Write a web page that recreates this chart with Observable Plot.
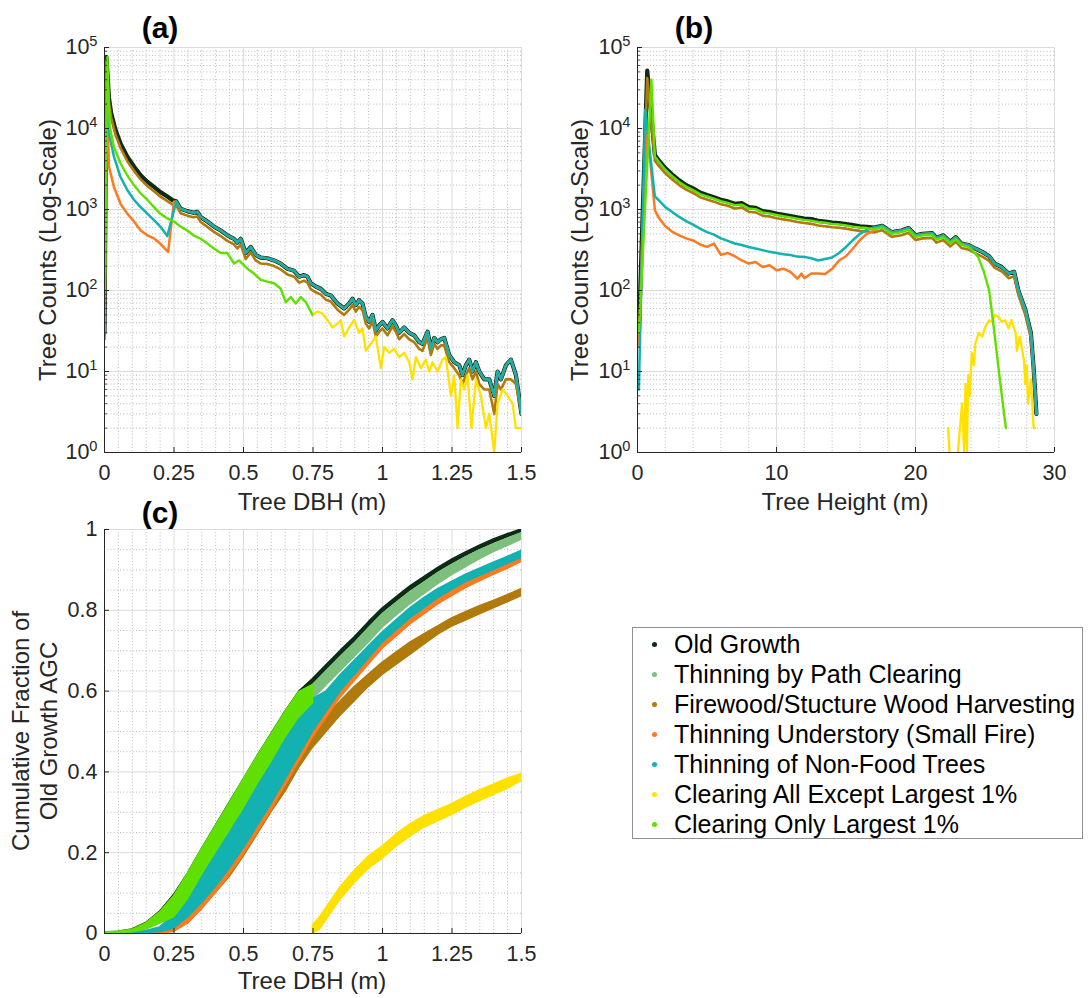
<!DOCTYPE html>
<html>
<head>
<meta charset="utf-8">
<script src="https://cdn.jsdelivr.net/npm/d3@7"></script>
<script src="https://cdn.jsdelivr.net/npm/@observablehq/plot@0.6"></script>
<style>
  body { margin: 0; background: #fff; }
  #root { position: relative; width: 1089px; height: 998px; overflow: hidden;
          font-family: "Liberation Sans", Arial, Helvetica, sans-serif; color: #262626; background: #fff; }
  .t { position: absolute; white-space: nowrap; transform: translate(-50%, -50%); font-size: 24px; line-height: 1; }
  .rot { transform: translate(-50%, -50%) rotate(-90deg); }
  .panel { font-weight: bold; font-size: 30px; color: #000; }
  #legend { position: absolute; left: 632px; top: 627px; width: 451px; height: 212px; box-sizing: border-box;
            border: 1px solid #8f8f8f; background: #fff; }
  .row { position: absolute; left: 0; height: 30px; line-height: 30px; font-size: 25px; color: #000; white-space: nowrap; }
  .dot { position: absolute; left: 19px; top: 13px; width: 5px; height: 5px; border-radius: 50%; }
  .lab { position: absolute; left: 41px; top: 0; }
  svg { position: absolute; }
</style>
</head>
<body>
<div id="root"></div>
<script>
// ---------------- DATA ----------------
const seriesNames = [
  "Old Growth",
  "Thinning by Path Clearing",
  "Firewood/Stucture Wood Harvesting",
  "Thinning Understory (Small Fire)",
  "Thinning of Non-Food Trees",
  "Clearing All Except Largest 1%",
  "Clearing Only Largest 1%"
];
const seriesColors = ["#0d2b16", "#7dbf7d", "#b07a0c", "#ff7a1f", "#13b1b1", "#ffe100", "#5fe000"];

// Panel (a): tree counts by DBH (m)
const dbhHeadX = [0, 0.007, 0.016, 0.024, 0.04, 0.058, 0.082, 0.106, 0.13, 0.154, 0.178, 0.2, 0.226, 0.245];
const dbhOldGrowthHead = [30, 76000, 24000, 15500, 9500, 6500, 4500, 3400, 2650, 2200, 1900, 1650, 1450, 1300];
const dbhFirewoodHead = [25, 70000, 21000, 13500, 8300, 5700, 3950, 3000, 2350, 1950, 1680, 1450, 1270, 1150];
// large trees (unchanged by the thinning scenarios)
const dbhTailX = [0.258,0.274,0.298,0.32,0.334,0.346,0.37,0.394,0.418,0.442,0.466,0.478,0.49,0.508,0.526,0.544,0.562,0.586,0.61,0.634,0.658,0.682,0.70,0.718,0.73,0.742,0.76,0.778,0.796,0.814,0.838,0.862,0.88,0.892,0.904,0.916,0.928,0.94,0.952,0.964,0.976,0.988,1.0,1.018,1.036,1.048,1.06,1.078,1.096,1.114,1.132,1.144,1.162,1.174,1.186,1.198,1.21,1.222,1.24,1.258,1.276,1.288,1.30,1.312,1.324,1.336,1.348,1.366,1.384,1.402,1.414,1.426,1.444,1.462,1.48,1.5];
const dbhOldGrowthTail = [1260,1020,955,910,935,810,710,615,550,480,435,390,435,290,345,275,255,250,235,215,185,175,148,155,148,123,112,105,91,87,69,60,69,79,66,76,69,47,41,50,32,37,41,34,43,37,30,35,30,28,23,22,31,19,26,23,25,26,16,13,12,9,12,14,10,13,10,8,8,5,10,8,12,14,9,3];
const dbhFirewoodTail = [1120,900,840,800,820,700,610,530,470,410,370,330,370,245,295,235,215,212,200,182,158,148,125,132,125,104,95,89,77,73,58,50,58,66,55,63,57,39,34,42,27,31,34,28,36,31,25,29,25,23,19,18,26,16,22,19,21,21,13,11,9,7,9,11,8,10,7,6,6,3,7,6,8,8,7,3];
const dbhNonFoodHeadX = [0, 0.007, 0.016, 0.034, 0.058, 0.082, 0.106, 0.13, 0.154, 0.178, 0.2, 0.226];
const dbhNonFoodHead = [30, 50000, 8700, 4500, 2500, 1740, 1320, 1070, 890, 740, 620, 470];
const dbhUnderHeadX = [0, 0.007, 0.016, 0.034, 0.058, 0.082, 0.106, 0.13, 0.154, 0.178, 0.2, 0.229, 0.25];
const dbhUnderHead = [30, 40000, 3400, 1900, 1170, 890, 710, 550, 480, 440, 380, 300, 1250];
const dbhOnlyLargestX = [0,0.01,0.019,0.034,0.058,0.082,0.106,0.13,0.154,0.178,0.2,0.226,0.25,0.274,0.298,0.32,0.346,0.37,0.394,0.418,0.442,0.466,0.484,0.514,0.538,0.562,0.586,0.61,0.634,0.652,0.67,0.688,0.706,0.724,0.748];
const dbhOnlyLargest = [32,76000,10500,5900,3700,2630,2000,1580,1320,1070,890,775,710,615,550,480,435,380,330,290,290,215,235,186,162,135,129,123,105,72,83,69,83,72,50];
const dbhAllExceptX = [0.748,0.766,0.784,0.802,0.82,0.838,0.85,0.862,0.88,0.898,0.916,0.928,0.94,0.958,0.976,0.994,1.006,1.024,1.042,1.06,1.078,1.096,1.108,1.12,1.138,1.156,1.168,1.18,1.198,1.216,1.228,1.246,1.258,1.27,1.282,1.294,1.306,1.32,1.336,1.354,1.372,1.384,1.402,1.414,1.432,1.45,1.468,1.48,1.5];
const dbhAllExcept = [50,55,52,43,35,39,43,27,35,43,30,34,18,22,27,11,20,17,19,15,17,13,8,15,11,14,10,13,10,14,15,5,9,2,8,6,9,2,8,5,2,3,1,4,6,5,4,2,2];

// Panel (b): tree counts by height (m)
const hHeadX = [0.1,0.7,1.25,1.5,2,2.5,3,3.5,4,4.5,5,5.5,6,6.5,7,7.5,8,8.5,9,9.5,10,10.5,11,11.5,12,12.5,13,13.5,14,14.5,15,15.5,16,16.5,17];
const hOldGrowthHead = [30,52000,4700,4100,3240,2700,2290,2000,1820,1620,1510,1420,1320,1260,1175,1200,1070,1050,955,930,890,860,830,800,775,760,725,710,690,680,660,640,620,610,600];
const hFirewoodHead = [22,42000,4000,3500,2800,2350,2000,1760,1600,1420,1330,1250,1160,1110,1030,1060,940,920,840,820,780,755,730,700,680,665,635,620,605,595,580,560,545,535,520];
const hTailX = [17.6,18.3,19,19.5,20,20.5,21.2,21.5,22,22.5,22.9,23.3,23.8,24.3,24.8,25.3,25.7,26.2,26.7,27.1,27.4,27.9,28.3,28.5,28.7];
const hOldGrowthTail = [630,525,550,590,480,500,510,445,480,400,455,380,365,330,300,265,215,195,162,170,100,58,30,11,3];
const hFirewoodTail = [555,460,480,515,420,440,445,390,420,350,400,335,320,290,262,232,190,172,142,150,88,50,26,10,3];
const hNonFoodHeadX = [0.1,0.55,1.25,1.5,2,2.5,3,3.5,4,4.5,5,5.5,6,6.5,7,7.5,8,8.5,9,9.5,10,10.5,11,11.5,12,12.5,13,13.5,14,14.5,15,15.5,16,16.5,17];
const hNonFoodHead = [6,17000,1450,1320,1070,930,810,720,650,580,525,490,440,410,380,365,345,330,315,300,290,280,275,262,260,250,235,245,255,290,345,420,500,560,600];
const hUnderHeadX = [0.1,0.7,1.25,1.5,2,2.5,3,3.5,4,4.5,5,5.5,6,6.5,7,7.5,8,8.5,9,9.5,10,10.5,11,11.5,11.8,12,12.5,13,13.5,14,14.5,15,15.5,16,16.5,17];
const hUnderHead = [20,9500,980,810,620,530,480,440,415,370,345,380,275,290,265,235,215,225,195,205,178,186,170,140,162,142,162,162,160,185,235,265,330,420,500,550];
const hOnlyLargestX = [0.1,1.0,1.25,1.5,2,2.5,3,3.5,4,4.5,5,5.5,6,6.5,7,7.5,8,8.5,9,9.5,10,10.5,11,11.5,12,12.5,13,13.5,14,14.5,15,15.5,16,16.5,17,17.6,18.3,19,19.5,20,20.5,21.2,21.5,22,22.5,22.9,23.3,23.8,24.05,24.5,24.9,25.3,25.65,26.0,26.5];
const hOnlyLargest = [30,40000,4500,3950,3100,2580,2190,1920,1740,1550,1450,1360,1270,1210,1130,1150,1030,1010,920,895,855,825,800,770,745,730,700,685,665,655,635,615,600,590,570,600,500,525,560,460,480,485,425,455,385,430,365,345,320,260,175,100,33,10,2];
const hAllExceptX = [22.35,22.45,22.6,23.05,23.2,23.35,23.5,23.6,23.7,23.8,23.9,24.05,24.2,24.3,24.55,24.8,25.0,25.3,25.5,25.7,26.0,26.2,26.45,26.7,26.9,27.2,27.3,27.5,27.8,27.9,28.0,28.1,28.3,28.4,28.5,28.6];
const hAllExcept = [2,1,null,1,2,4,1,7,1,9,5,17,12,22,30,27,35,43,41,50,47,41,43,34,43,30,18,27,14,7,12,4,8,4,2,2];

// Panel (c): cumulative fraction of old-growth AGC vs DBH (scatter bands: low / high edge)
const cX = [0,0.05,0.1,0.15,0.2,0.25,0.3,0.35,0.4,0.45,0.5,0.55,0.6,0.65,0.7,0.75,0.8,0.85,0.9,0.95,1.0,1.05,1.1,1.15,1.2,1.25,1.3,1.35,1.4,1.45,1.5];
const cOldGrowthLo = [0,0.001,0.005,0.018,0.042,0.08,0.13,0.19,0.248,0.305,0.362,0.42,0.475,0.53,0.58,0.617,0.652,0.688,0.722,0.759,0.794,0.822,0.849,0.872,0.896,0.916,0.935,0.952,0.967,0.981,0.994];
const cOldGrowthHi = [0.002,0.004,0.01,0.026,0.054,0.095,0.148,0.208,0.266,0.323,0.38,0.438,0.493,0.548,0.598,0.63,0.665,0.7,0.733,0.77,0.804,0.832,0.859,0.882,0.905,0.925,0.943,0.96,0.975,0.988,1.0];
const cPathLo = [0,0,0.003,0.012,0.032,0.065,0.11,0.165,0.22,0.275,0.33,0.388,0.44,0.495,0.545,0.58,0.615,0.65,0.685,0.72,0.757,0.787,0.815,0.84,0.865,0.887,0.907,0.926,0.944,0.959,0.975];
const cPathHi = [0.001,0.002,0.006,0.02,0.045,0.082,0.133,0.192,0.25,0.307,0.364,0.422,0.477,0.532,0.582,0.615,0.65,0.685,0.718,0.755,0.79,0.818,0.845,0.868,0.892,0.912,0.931,0.948,0.963,0.977,0.99];
const cFirewoodLo = [0,0,0,0,0,0.005,0.025,0.06,0.1,0.14,0.19,0.245,0.3,0.35,0.41,0.46,0.5,0.54,0.575,0.61,0.64,0.665,0.69,0.715,0.74,0.76,0.775,0.79,0.805,0.82,0.835];
const cFirewoodHi = [0,0.001,0.002,0.004,0.01,0.025,0.05,0.085,0.125,0.17,0.22,0.28,0.345,0.395,0.45,0.5,0.54,0.575,0.61,0.64,0.67,0.695,0.72,0.74,0.76,0.78,0.795,0.81,0.823,0.837,0.852];
const cUnderLo = [0,0,0,0,0.001,0.004,0.025,0.06,0.1,0.145,0.195,0.25,0.305,0.365,0.425,0.485,0.535,0.585,0.625,0.665,0.705,0.735,0.765,0.79,0.815,0.835,0.855,0.872,0.888,0.903,0.92];
const cUnderHi = [0,0.001,0.002,0.004,0.009,0.022,0.05,0.085,0.125,0.17,0.22,0.275,0.33,0.39,0.45,0.51,0.56,0.605,0.645,0.685,0.725,0.755,0.785,0.81,0.833,0.852,0.871,0.887,0.903,0.918,0.937];
const cNonFoodLo = [0,0,0,0.001,0.004,0.012,0.04,0.075,0.115,0.16,0.21,0.265,0.32,0.38,0.44,0.5,0.55,0.6,0.64,0.68,0.72,0.75,0.78,0.805,0.83,0.85,0.87,0.885,0.9,0.915,0.93];
const cNonFoodHi = [0.001,0.001,0.002,0.006,0.015,0.045,0.095,0.155,0.21,0.265,0.32,0.38,0.435,0.495,0.545,0.58,0.6,0.64,0.675,0.71,0.745,0.775,0.805,0.83,0.852,0.87,0.888,0.903,0.918,0.932,0.947];
const cOnlyLargestX = [0,0.05,0.1,0.15,0.2,0.25,0.3,0.35,0.4,0.45,0.5,0.55,0.6,0.65,0.7,0.75];
const cOnlyLargestLo = [0,0.001,0.003,0.01,0.025,0.04,0.085,0.145,0.2,0.255,0.31,0.37,0.425,0.485,0.535,0.57];
const cOnlyLargestHi = [0.003,0.004,0.009,0.025,0.052,0.092,0.148,0.208,0.265,0.322,0.38,0.438,0.492,0.547,0.597,0.615];
const cAllExceptX = [0.75,0.775,0.8,0.85,0.9,0.95,1.0,1.05,1.1,1.15,1.2,1.25,1.3,1.35,1.4,1.45,1.5];
const cAllExceptLo = [0,0.01,0.035,0.085,0.125,0.16,0.185,0.215,0.24,0.262,0.278,0.293,0.312,0.328,0.343,0.358,0.377];
const cAllExceptHi = [0.02,0.04,0.065,0.115,0.155,0.19,0.215,0.245,0.27,0.29,0.305,0.32,0.338,0.354,0.368,0.383,0.395];

// Tick values
const dbhTicks = [0, 0.25, 0.5, 0.75, 1, 1.25, 1.5];
const dbhTickLabels = ["0", "0.25", "0.5", "0.75", "1", "1.25", "1.5"];
const heightTicks = [0, 10, 20, 30];
const logTicks = [1, 10, 100, 1000, 10000, 100000];
const fracTicks = [0, 0.2, 0.4, 0.6, 0.8, 1];
const fracTickLabels = ["0", "0.2", "0.4", "0.6", "0.8", "1"];

// ---------------- HELPERS ----------------
const FONT = '"Liberation Sans", Arial, Helvetica, sans-serif';
const root = document.getElementById("root");
const NS = "http://www.w3.org/2000/svg";
const C = {og: seriesColors[0], pc: seriesColors[1], fw: seriesColors[2], un: seriesColors[3], nf: seriesColors[4], ae: seriesColors[5], ol: seriesColors[6]};

function pts(xs, ys) {
  if (xs.length !== ys.length) console.warn("length mismatch", xs.length, ys.length);
  return xs.map((x, i) => ({x, y: ys[i]}));
}
function band(xs, lo, hi) {
  if (xs.length !== lo.length || xs.length !== hi.length) console.warn("band mismatch");
  return xs.map((x, i) => ({x, lo: lo[i], hi: hi[i]}));
}
function stepRange(a, b, s, exclude) {
  const out = [];
  for (let i = 0; a + i * s <= b + 1e-9; i++) {
    const v = +(a + i * s).toFixed(6);
    if (!exclude.some(e => Math.abs(e - v) < 1e-9)) out.push(v);
  }
  return out;
}
const logMinor = [];
for (let k = 0; k < 5; k++) for (let m = 2; m <= 9; m++) logMinor.push(m * Math.pow(10, k));

function gridMarks(xMinor, xMajor, yMinor, yMajor) {
  return [
    Plot.ruleX(xMinor, {stroke: "#aaaaaa", strokeWidth: 0.8, strokeDasharray: "1,2.2"}),
    Plot.ruleY(yMinor, {stroke: "#aaaaaa", strokeWidth: 0.8, strokeDasharray: "1,2.2"}),
    Plot.ruleX(xMajor, {stroke: "#dcdcdc", strokeWidth: 1}),
    Plot.ruleY(yMajor, {stroke: "#dcdcdc", strokeWidth: 1})
  ];
}
function axisMarks(x0, y0, xMajor, yMajor, yMinorTicks, pw, ph) {
  const m = [
    Plot.ruleX(xMajor, {stroke: "#262626", strokeWidth: 1, insetTop: ph - 5}),
    Plot.ruleY(yMajor, {stroke: "#262626", strokeWidth: 1, insetRight: pw - 5}),
    Plot.ruleX([x0], {stroke: "#262626", strokeWidth: 1}),
    Plot.ruleY([y0], {stroke: "#262626", strokeWidth: 1})
  ];
  if (yMinorTicks) m.push(Plot.ruleY(yMinorTicks, {stroke: "#262626", strokeWidth: 0.8, insetRight: pw - 3}));
  return m;
}

function makePanel(o) {
  const svg = Plot.plot({
    width: o.width, height: o.height,
    marginLeft: o.plotL - o.left, marginRight: o.left + o.width - o.plotR,
    marginTop: o.plotT - o.top, marginBottom: o.top + o.height - o.plotB,
    style: {fontFamily: FONT, fontSize: "21.5px", color: "#262626", background: "transparent", overflow: "visible"},
    x: Object.assign({label: null, tickSize: 0, tickPadding: 12}, o.x),
    y: Object.assign({label: null, tickSize: 0, tickPadding: 7}, o.y),
    marks: o.marks
  });
  svg.style.left = o.left + "px";
  svg.style.top = o.top + "px";
  root.appendChild(svg);
  return svg;
}
function supify(svg) {
  svg.querySelectorAll("text").forEach(t => {
    const m = (t.textContent || "").match(/^10\^(\d+)$/);
    if (!m) return;
    t.textContent = "";
    const a = document.createElementNS(NS, "tspan"); a.textContent = "10"; t.appendChild(a);
    const b = document.createElementNS(NS, "tspan");
    b.setAttribute("dy", "-0.55em"); b.setAttribute("font-size", "0.68em"); b.textContent = m[1];
    t.appendChild(b);
  });
}
function addText(txt, x, y, cls) {
  const d = document.createElement("div");
  d.className = "t " + (cls || "");
  d.style.left = x + "px"; d.style.top = y + "px";
  d.textContent = txt;
  root.appendChild(d);
  return d;
}

const logFmt = d => "10^" + Math.round(Math.log10(d));
const lineOpts = (color, w) => ({x: "x", y: "y", stroke: color, strokeWidth: w, strokeLinejoin: "round", clip: true});

// ---------------- PANEL (a) ----------------
{
  const L = 104, R = 521, T = 47, B = 452;
  const ogData = pts(dbhHeadX.concat(dbhTailX), dbhOldGrowthHead.concat(dbhOldGrowthTail));
  const svg = makePanel({
    left: 0, top: 0, width: 545, height: 490, plotL: L, plotR: R, plotT: T, plotB: B,
    x: {domain: [0, 1.5], ticks: dbhTicks, tickFormat: d => dbhTickLabels[dbhTicks.indexOf(d)]},
    y: {type: "log", domain: [1, 1e5], ticks: logTicks, tickFormat: logFmt},
    marks: [
      ...gridMarks(stepRange(0, 1.5, 0.05, dbhTicks), dbhTicks, logMinor, logTicks),
      Plot.line(ogData, lineOpts(C.pc, 2.5)),
      Plot.line(ogData, lineOpts(C.og, 4.2)),
      Plot.line(pts(dbhHeadX.concat(dbhTailX), dbhFirewoodHead.concat(dbhFirewoodTail)), lineOpts(C.fw, 2.6)),
      Plot.line(pts(dbhUnderHeadX.concat(dbhTailX), dbhUnderHead.concat(dbhOldGrowthTail)), lineOpts(C.un, 2.5)),
      Plot.line(pts(dbhNonFoodHeadX.concat(dbhTailX), dbhNonFoodHead.concat(dbhOldGrowthTail)), lineOpts(C.nf, 2.5)),
      Plot.line(pts(dbhAllExceptX, dbhAllExcept), lineOpts(C.ae, 2.3)),
      Plot.line(pts(dbhOnlyLargestX, dbhOnlyLargest), lineOpts(C.ol, 2.4)),
      ...axisMarks(0, 1, dbhTicks, logTicks, logMinor, R - L, B - T)
    ]
  });
  supify(svg);
}

// ---------------- PANEL (b) ----------------
{
  const L = 637, R = 1054, T = 47, B = 452;
  const ogData = pts(hHeadX.concat(hTailX), hOldGrowthHead.concat(hOldGrowthTail));
  const svg = makePanel({
    left: 545, top: 0, width: 544, height: 490, plotL: L, plotR: R, plotT: T, plotB: B,
    x: {domain: [0, 30], ticks: heightTicks, tickFormat: d => String(d)},
    y: {type: "log", domain: [1, 1e5], ticks: logTicks, tickFormat: logFmt},
    marks: [
      ...gridMarks(stepRange(0, 30, 2, heightTicks), heightTicks, logMinor, logTicks),
      Plot.line(ogData, lineOpts(C.pc, 2.5)),
      Plot.line(ogData, lineOpts(C.og, 4.2)),
      Plot.line(pts(hHeadX.concat(hTailX), hFirewoodHead.concat(hFirewoodTail)), lineOpts(C.fw, 2.6)),
      Plot.line(pts(hUnderHeadX.concat(hTailX), hUnderHead.concat(hOldGrowthTail)), lineOpts(C.un, 2.5)),
      Plot.line(pts(hNonFoodHeadX.concat(hTailX), hNonFoodHead.concat(hOldGrowthTail)), lineOpts(C.nf, 2.5)),
      Plot.line(pts(hAllExceptX, hAllExcept), lineOpts(C.ae, 2.3)),
      Plot.line(pts(hOnlyLargestX, hOnlyLargest), lineOpts(C.ol, 2.4)),
      ...axisMarks(0, 1, heightTicks, logTicks, logMinor, R - L, B - T)
    ]
  });
  supify(svg);
}

// ---------------- PANEL (c) ----------------
{
  const L = 104, R = 521, T = 529, B = 933;
  const areaOpts = color => ({x: "x", y1: "lo", y2: "hi", fill: color, stroke: color, strokeWidth: 1.6, strokeLinejoin: "round", clip: true});
  makePanel({
    left: 0, top: 490, width: 545, height: 508, plotL: L, plotR: R, plotT: T, plotB: B,
    x: {domain: [0, 1.5], ticks: dbhTicks, tickFormat: d => dbhTickLabels[dbhTicks.indexOf(d)]},
    y: {domain: [0, 1], ticks: fracTicks, tickFormat: d => fracTickLabels[fracTicks.indexOf(d)]},
    marks: [
      ...gridMarks(stepRange(0, 1.5, 0.05, dbhTicks), dbhTicks, stepRange(0, 1, 0.05, fracTicks), fracTicks),
      Plot.areaY(band(cX, cOldGrowthLo, cOldGrowthHi), areaOpts(C.og)),
      Plot.areaY(band(cX, cPathLo, cPathHi), areaOpts(C.pc)),
      Plot.areaY(band(cX, cFirewoodLo, cFirewoodHi), areaOpts(C.fw)),
      Plot.areaY(band(cX, cUnderLo, cUnderHi), areaOpts(C.un)),
      Plot.areaY(band(cX, cNonFoodLo, cNonFoodHi), areaOpts(C.nf)),
      Plot.areaY(band(cAllExceptX, cAllExceptLo, cAllExceptHi), areaOpts(C.ae)),
      Plot.areaY(band(cOnlyLargestX, cOnlyLargestLo, cOnlyLargestHi), areaOpts(C.ol)),
      ...axisMarks(0, 0, dbhTicks, fracTicks, null, R - L, B - T)
    ]
  });
}

// ---------------- TEXT ----------------
addText("(a)", 160, 28, "panel");
addText("(b)", 694, 28, "panel");
addText("(c)", 160, 513, "panel");
addText("Tree DBH (m)", 312, 502);
addText("Tree Height (m)", 845, 502);
addText("Tree DBH (m)", 312, 981);
addText("Tree Counts (Log-Scale)", 48, 250, "rot");
addText("Tree Counts (Log-Scale)", 580, 250, "rot");
addText("Cumulative Fraction of", 21, 731, "rot");
addText("Old Growth AGC", 49, 731, "rot");

// ---------------- LEGEND ----------------
{
  const lg = document.createElement("div");
  lg.id = "legend";
  seriesNames.forEach((name, i) => {
    const row = document.createElement("div");
    row.className = "row";
    row.style.top = (1 + 30 * i) + "px";
    const dot = document.createElement("span");
    dot.className = "dot"; dot.style.background = seriesColors[i];
    const lab = document.createElement("span");
    lab.className = "lab"; lab.textContent = name;
    row.appendChild(dot); row.appendChild(lab);
    lg.appendChild(row);
  });
  root.appendChild(lg);
}
</script>
</body>
</html>
